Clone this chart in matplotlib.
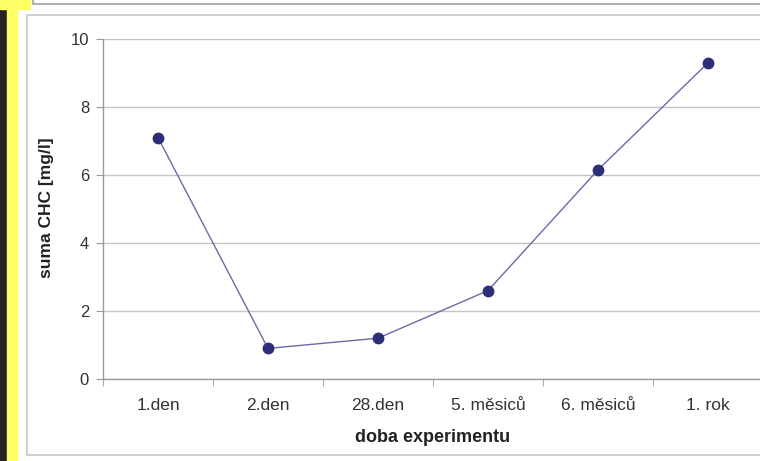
import matplotlib.pyplot as plt
from matplotlib.patches import Rectangle

plt.rcParams['font.family'] = ['Liberation Sans', 'DejaVu Sans']

# Data
doba = ["1.den", "2.den", "28.den", "5. měsiců", "6. měsiců", "1. rok"]
suma_chc = [7.1, 0.9, 1.2, 2.6, 6.15, 9.3]

W, H = 760, 461
fig = plt.figure(figsize=(W / 100, H / 100), dpi=100)

def px(x0, y0, x1, y1):
    # pixel box (top-left origin) -> figure fraction rect
    return [x0 / W, 1 - y1 / H, (x1 - x0) / W, (y1 - y0) / H]

# slide background pieces around the chart
fig.patches.append(Rectangle((0, 0), 7 / W, 1, transform=fig.transFigure,
                             color="#2a2420", zorder=-1))
fig.patches.append(Rectangle((7 / W, 0), 10 / W, 1, transform=fig.transFigure,
                             color="#ffff66", zorder=-1))
fig.patches.append(Rectangle((0, 1 - 9 / H), 30 / W, 9 / H, transform=fig.transFigure,
                             color="#ffff66", zorder=-1))
r = px(33, -5, 765, 4)
fig.patches.append(Rectangle((r[0], r[1]), r[2], r[3], transform=fig.transFigure,
                             facecolor="white", edgecolor="#a0a0a0", lw=1.2, zorder=-1))
r = px(27, 15, 770, 455)
fig.patches.append(Rectangle((r[0], r[1]), r[2], r[3], transform=fig.transFigure,
                             facecolor="white", edgecolor="#d0d0d0", lw=1.5, zorder=-1))

ax = fig.add_axes([103 / W, 82 / H, 660 / W, 340 / H])
ax.set_zorder(2)
ax.set_facecolor("none")

x = range(len(doba))
ax.plot(x, suma_chc, color="#6a6aa8", lw=1.0, zorder=3)
ax.plot(x, suma_chc, "o", color="#2e2e78", ms=7.5, zorder=4)

ax.set_xlim(-0.5, len(doba) - 0.5)
ax.set_ylim(0, 10)
ax.set_yticks(range(0, 11, 2))
ax.set_xticks(list(x))
ax.set_xticklabels(doba)
ax.set_xticks([i + 0.5 for i in range(-1, len(doba))], minor=True)

ax.grid(axis="y", color="#c4c4c4", lw=1.0)
ax.set_axisbelow(True)
for s in ["top", "right"]:
    ax.spines[s].set_visible(False)
for s in ["left", "bottom"]:
    ax.spines[s].set_color("#9a9a9a")
    ax.spines[s].set_linewidth(1.0)

ax.tick_params(axis="y", length=5, color="#9a9a9a", labelsize=12, pad=5, labelcolor="#333333")
ax.tick_params(axis="x", which="major", length=0, labelsize=12.5, pad=14, labelcolor="#333333")
ax.tick_params(axis="x", which="minor", length=5, color="#9a9a9a")

ax.set_xlabel("doba experimentu", fontsize=13, fontweight="bold", color="#222222")
ax.set_ylabel("suma CHC [mg/l]", fontsize=12.5, fontweight="bold", color="#222222")
ax.xaxis.set_label_coords(0.5, (379 - 437) / 340)
ax.xaxis.label.set_va("center")
ax.yaxis.set_label_coords((47 - 103) / 660, (379 - 208) / 340)
ax.yaxis.label.set_va("center")

fig.savefig("out.png", dpi=100)
